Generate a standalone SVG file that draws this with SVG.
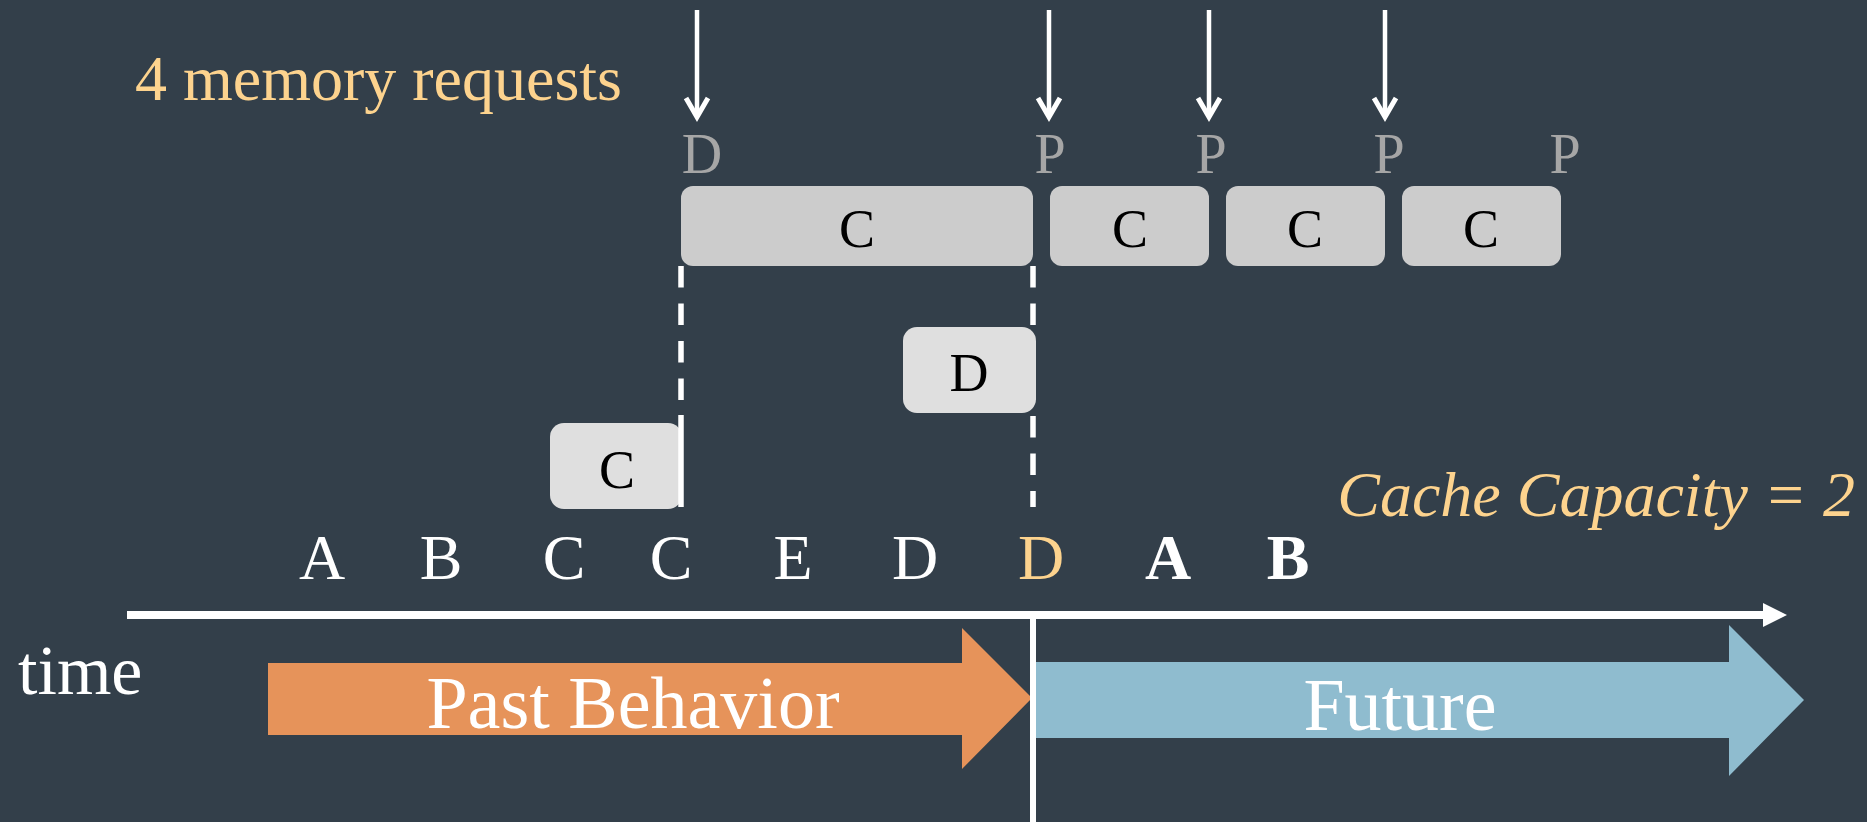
<svg xmlns="http://www.w3.org/2000/svg" width="1867" height="822" viewBox="0 0 1867 822">
  <defs>
    <style>
      .serif { font-family: "Liberation Serif", "Times New Roman", serif; }
      .gold { fill: #fdd38e; }
      .white { fill: #ffffff; }
      .slot { fill: #a6a6a6; font-size: 56px; text-anchor: middle; }
      .seq { font-size: 64px; text-anchor: middle; }
      .big { fill: #cccccc; }
      .small { fill: #dfdfdf; }
      .boxtxt { fill: #000000; font-size: 54px; text-anchor: middle; }
      .req { stroke: #ffffff; stroke-width: 4.5; fill: none; }
      .dash { stroke: #ffffff; stroke-width: 5.5; stroke-dasharray: 21.5 16; fill: none; }
      .band { fill: #ffffff; font-size: 74px; text-anchor: middle; }
    </style>
    <marker id="openHead" markerUnits="userSpaceOnUse" viewBox="-30 -20 40 40" markerWidth="40" markerHeight="40" refX="0" refY="0" orient="auto">
      <path d="M-19,-11 L0,0 L-19,11" fill="none" stroke="#ffffff" stroke-width="5" stroke-linejoin="miter"/>
    </marker>
    <marker id="solidHead" markerUnits="userSpaceOnUse" viewBox="0 -14 30 28" markerWidth="30" markerHeight="28" refX="0" refY="0" orient="auto">
      <path d="M0,-12 L24,0 L0,12 Z" fill="#ffffff"/>
    </marker>
  </defs>

  <!-- backdrop -->
  <rect x="0" y="0" width="1867" height="822" fill="#333f4a"/>

  <!-- past / future bands -->
  <g id="past-band">
    <polygon points="268,663 962,663 962,628 1032,698 962,769 962,735 268,735" fill="#e6935a"/>
    <text class="serif band" x="633" y="728">Past Behavior</text>
  </g>
  <g id="future-band">
    <polygon points="1033,662 1729,662 1729,625 1804,700 1729,776 1729,738 1033,738" fill="#8fbccf"/>
    <text class="serif band" x="1400" y="730">Future</text>
  </g>

  <!-- connectors: request arrows, eviction bounds, time axis -->
  <g id="connectors">
    <line class="req" x1="697" y1="10" x2="697" y2="117" marker-end="url(#openHead)"/>
    <line class="req" x1="1049" y1="10" x2="1049" y2="117" marker-end="url(#openHead)"/>
    <line class="req" x1="1209" y1="10" x2="1209" y2="117" marker-end="url(#openHead)"/>
    <line class="req" x1="1385" y1="10" x2="1385" y2="117" marker-end="url(#openHead)"/>
    <line class="dash" x1="681" y1="266" x2="681" y2="415"/>
    <line class="dash" x1="1033" y1="266" x2="1033" y2="507"/>
    <line x1="127" y1="615" x2="1763" y2="615" stroke="#ffffff" stroke-width="8" marker-end="url(#solidHead)"/>
    <line x1="1033" y1="619" x2="1033" y2="822" stroke="#ffffff" stroke-width="6"/>
  </g>

  <!-- cache residency boxes -->
  <g id="box-c-long">
    <rect class="big" x="681" y="186" width="352" height="80" rx="12"/>
    <text class="serif boxtxt" x="857" y="247">C</text>
  </g>
  <g id="box-c-2">
    <rect class="big" x="1050" y="186" width="159" height="80" rx="12"/>
    <text class="serif boxtxt" x="1130" y="247">C</text>
  </g>
  <g id="box-c-3">
    <rect class="big" x="1226" y="186" width="159" height="80" rx="12"/>
    <text class="serif boxtxt" x="1305" y="247">C</text>
  </g>
  <g id="box-c-4">
    <rect class="big" x="1402" y="186" width="159" height="80" rx="12"/>
    <text class="serif boxtxt" x="1481" y="247">C</text>
  </g>
  <g id="box-d">
    <rect class="small" x="903" y="327" width="133" height="86" rx="14"/>
    <text class="serif boxtxt" x="969" y="391">D</text>
  </g>
  <g id="box-c-first">
    <rect class="small" x="550" y="423" width="132" height="86" rx="14"/>
    <text class="serif boxtxt" x="617" y="488">C</text>
    <line x1="681" y1="415" x2="681" y2="507" stroke="#ffffff" stroke-width="5.5"/>
  </g>

  <!-- slot labels -->
  <g id="slot-labels" class="serif">
    <text class="slot" x="702" y="173">D</text>
    <text class="slot" x="1050" y="173">P</text>
    <text class="slot" x="1211" y="173">P</text>
    <text class="slot" x="1389" y="173">P</text>
    <text class="slot" x="1565" y="173">P</text>
  </g>

  <!-- access sequence -->
  <g id="sequence" class="serif">
    <text class="seq white" x="322" y="579">A</text>
    <text class="seq white" x="441" y="579">B</text>
    <text class="seq white" x="564" y="579">C</text>
    <text class="seq white" x="671" y="579">C</text>
    <text class="seq white" x="793" y="579">E</text>
    <text class="seq white" x="915" y="579">D</text>
    <text class="seq gold" x="1041" y="579">D</text>
    <text class="seq white" x="1168" y="579" font-weight="bold">A</text>
    <text class="seq white" x="1288" y="579" font-weight="bold">B</text>
  </g>

  <!-- captions -->
  <g id="captions" class="serif">
    <text class="gold" x="135" y="100" font-size="64">4 memory requests</text>
    <text class="gold" x="1855" y="516" font-size="64" font-style="italic" text-anchor="end">Cache Capacity = 2</text>
    <text class="white" x="18" y="694" font-size="70">time</text>
  </g>
</svg>
